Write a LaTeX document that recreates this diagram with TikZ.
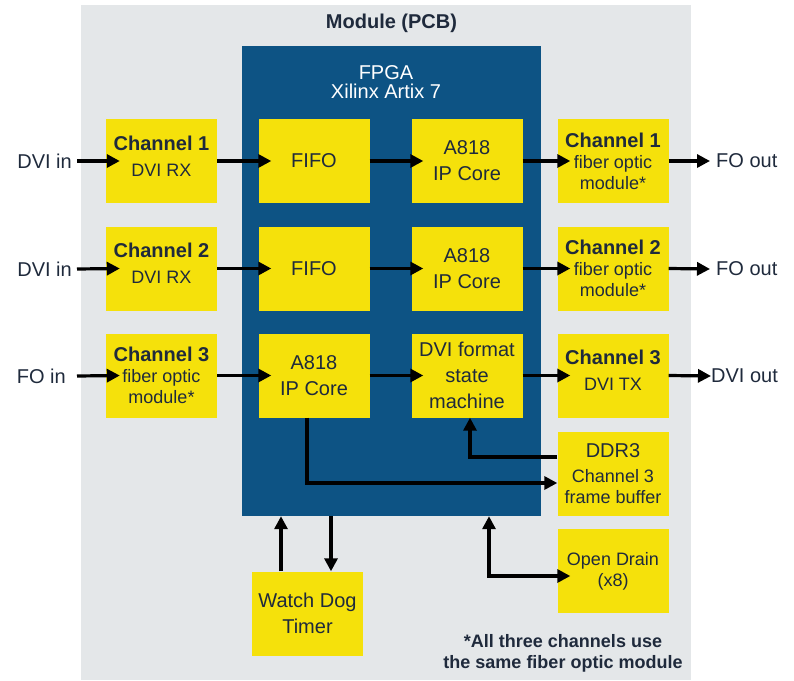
\documentclass[tikz,border=0pt]{standalone}
\usepackage{fontspec}
\setmainfont{Liberation Sans}
\usetikzlibrary{arrows.meta,calc}
\definecolor{ylw}{HTML}{F5E10B}
\definecolor{fpgablue}{HTML}{0D5384}
\definecolor{pcbgray}{HTML}{E4E7E9}
\definecolor{ink}{HTML}{1F2A3C}
\begin{document}
\begin{tikzpicture}[x=1pt,y=-1pt,
  box/.style={fill=ylw, minimum width=111pt, minimum height=84pt, inner sep=0pt, align=center, text=ink, font=\fontsize{20}{26}\selectfont},
  chbox/.style={box, font=\fontsize{18}{26}\selectfont, text depth=10pt},
  fobox/.style={box, font=\fontsize{18}{21}\selectfont},
  lbl/.style={text=ink, font=\fontsize{20}{24}\selectfont, inner sep=0pt},
  arr/.style={line width=3.2pt, -{Triangle[length=13pt,width=13pt]}},
  darr/.style={line width=3.2pt, {Triangle[length=13pt,width=13pt]}-{Triangle[length=13pt,width=13pt]}}
]
\useasboundingbox (0,0) rectangle (794,680);
% backgrounds
\node[fill=pcbgray, minimum width=610pt, minimum height=675pt, inner sep=0pt] (pcb) at (386,342.5) {};
\node[text=ink, font=\bfseries\fontsize{20}{24}\selectfont, inner sep=0pt] (title) at (391.5,23) {Module (PCB)};
\node[fill=fpgablue, minimum width=299pt, minimum height=470pt, inner sep=0pt] (fpga) at (391.5,281) {};
\node[text=white, align=center, font=\fontsize{20}{19}\selectfont, inner sep=0pt] (fpgalbl) at (386,82) {FPGA\\Xilinx Artix 7};

% input column
\node[chbox] (c1in) at (161.5,161) {{\bfseries\fontsize{20}{26}\selectfont Channel 1}\\DVI RX};
\node[chbox] (c2in) at (161.5,268.5) {{\bfseries\fontsize{20}{26}\selectfont Channel 2}\\DVI RX};
\node[fobox] (c3in) at (161.5,375.5) {{\bfseries\fontsize{20}{21}\selectfont Channel 3}\\fiber optic\\module*};

% FPGA inner columns
\node[box] (fifo1) at (314,161) {FIFO};
\node[box] (fifo2) at (314,268.5) {FIFO};
\node[box] (a8183) at (314,375.5) {A818\\IP Core};
\node[box] (a8181) at (467,161) {A818\\IP Core};
\node[box] (a8182) at (467,268.5) {A818\\IP Core};
\node[box] (dvifmt) at (467,375.5) {DVI format\\state\\machine};

% output column
\node[fobox] (c1out) at (613,161) {{\bfseries\fontsize{20}{21}\selectfont Channel 1}\\fiber optic\\module*};
\node[fobox] (c2out) at (613,268.5) {{\bfseries\fontsize{20}{21}\selectfont Channel 2}\\fiber optic\\module*};
\node[chbox] (c3out) at (613,375.5) {{\bfseries\fontsize{20}{26}\selectfont Channel 3}\\DVI TX};
\node[fobox] (ddr3) at (613,474) {{\fontsize{20}{21}\selectfont DDR3}\\[4pt]Channel 3\\frame buffer};
\node[fobox] (od) at (613,571) {Open Drain\\(x8)};
\node[box] (wd) at (307.5,613.5) {Watch Dog\\Timer};

% outer labels
\node[lbl, anchor=east] (in1) at (72,161) {DVI in};
\node[lbl, anchor=east] (in2) at (72,269) {DVI in};
\node[lbl, anchor=east] (in3) at (66,376) {FO in};
\node[lbl, anchor=west] (out1) at (716,161) {FO out};
\node[lbl, anchor=west] (out2) at (716,269) {FO out};
\node[lbl, anchor=west] (out3) at (711,376) {DVI out};

% footnote
\node[text=ink, font=\bfseries\fontsize{18}{21}\selectfont, align=center, inner sep=0pt] (note) at (563,653) {*All three channels use\\the same fiber optic module};

% row arrows
\draw[arr] ([xshift=5pt]in1.east) -- ([xshift=14pt]c1in.west);
\draw[arr] (c1in.east) -- ([xshift=13pt]fifo1.west);
\draw[arr] (fifo1.east) -- ([xshift=12pt]a8181.west);
\draw[arr] (a8181.east) -- ([xshift=13pt]c1out.west);
\draw[arr] (c1out.east) -- ([xshift=-6pt]out1.west);

\draw[arr] ([xshift=5pt]in2.east) -- ([xshift=14pt]c2in.west);
\draw[arr] (c2in.east) -- ([xshift=13pt]fifo2.west);
\draw[arr] (fifo2.east) -- ([xshift=12pt]a8182.west);
\draw[arr] (a8182.east) -- ([xshift=13pt]c2out.west);
\draw[arr] (c2out.east) -- ([xshift=-6pt]out2.west);

\draw[arr] ([xshift=11pt]in3.east) -- ([xshift=14pt]c3in.west);
\draw[arr] (c3in.east) -- ([xshift=13pt]a8183.west);
\draw[arr] (a8183.east) -- ([xshift=12pt]dvifmt.west);
\draw[arr] (dvifmt.east) -- ([xshift=13pt]c3out.west);
\draw[arr] (c3out.east) -- (out3.west);

% frame buffer paths
\coordinate (fbstart) at ($(a8183.south)+(-7,0)$);
\coordinate (fbend) at ($(ddr3.west)+(0,9)$);
\draw[arr] (fbstart) |- (fbend);
\coordinate (rdstart) at ($(ddr3.west)+(0,-17)$);
\coordinate (rdend) at ($(dvifmt.south)+(3,0)$);
\draw[arr] (rdstart) -| (rdend);

% watch dog
\coordinate (wdup) at ($(wd.north)+(-26.5,0)$);
\coordinate (wddown) at ($(wd.north)+(23.5,0)$);
\draw[arr] (wdup) -- (wdup |- fpga.south);
\draw[arr] (wddown |- fpga.south) -- (wddown);

% open drain
\coordinate (odtop) at ($(fpga.south)+(97.5,0)$);
\coordinate (odend) at ($(od.west)+(13,5)$);
\draw[darr] (odtop) |- (odend);
\end{tikzpicture}
\end{document}
